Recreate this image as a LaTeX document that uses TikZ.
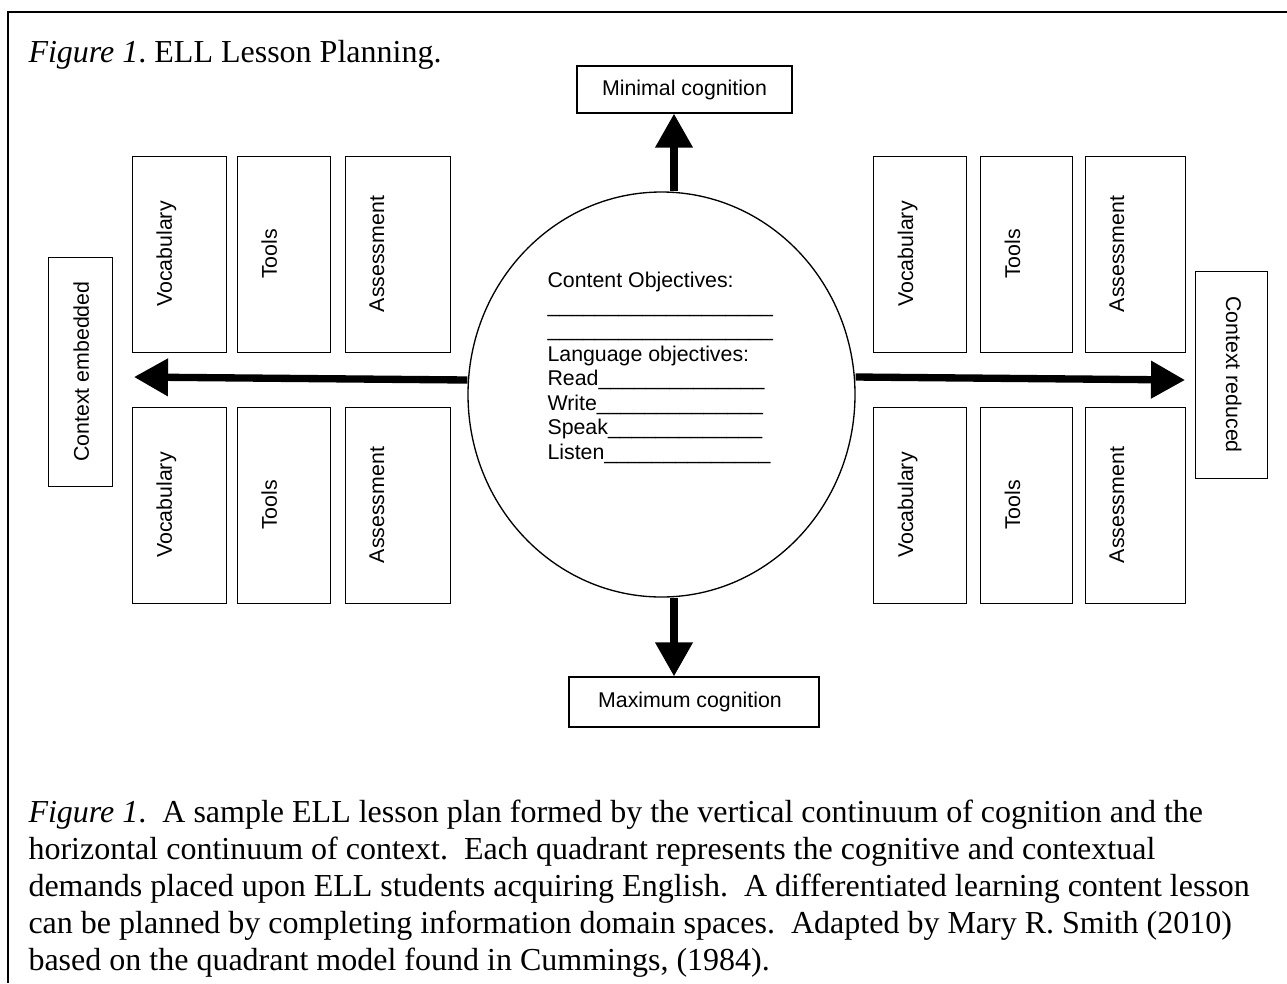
\documentclass[tikz,border=0pt]{standalone}
\usepackage{fontspec}
\setmainfont{Liberation Serif}
\newfontfamily\arialf{Liberation Sans}
\usetikzlibrary{arrows.meta,shapes.geometric}
\frenchspacing
\begin{document}
\begin{tikzpicture}[x=0.375pt,y=-0.375pt,
  bx/.style={draw, line width=0.5pt, rectangle, inner sep=0pt, anchor=north west, minimum height=73.5pt},
  sans/.style={font=\arialf\fontsize{8pt}{9pt}\selectfont, inner sep=0pt},
  vtxt/.style={sans, rotate=90, anchor=north},
  rtxt/.style={sans, rotate=-90, anchor=north},
  ltxt/.style={sans, anchor=base west},
  serif/.style={font=\fontsize{12pt}{13.8pt}\selectfont, inner sep=0pt, anchor=base west},
  big/.style={line width=2.75pt, -{Triangle[length=12.75pt,width=13.5pt]}},
  cbox/.style={draw, line width=0.5pt, rectangle, inner sep=0pt, sans},
]
\useasboundingbox (0,0) rectangle (1287,983);
\draw[line width=0.75pt] (1287,12) -- (8,12) -- (8,983);

\node[serif] (title) at (28,62) {\textit{Figure 1}. ELL Lesson Planning.};

% centre ellipse
\node[draw, ellipse, line width=0.5pt, minimum width=145.125pt, minimum height=151.875pt, inner sep=0pt] (c) at (661.5,394.5) {};
\node[ltxt] (co1) at (547,287.5) {Content Objectives:};
\node[ltxt] (co2) at (547,312) {\_\_\_\_\_\_\_\_\_\_\_\_\_\_\_\_\_\_\_};
\node[ltxt] (co3) at (547,336.5) {\_\_\_\_\_\_\_\_\_\_\_\_\_\_\_\_\_\_\_};
\node[ltxt] (co4) at (547,361) {Language objectives:};
\node[ltxt] (co5) at (547,385.5) {Read\_\_\_\_\_\_\_\_\_\_\_\_\_\_};
\node[ltxt] (co6) at (547,410) {Write\_\_\_\_\_\_\_\_\_\_\_\_\_\_};
\node[ltxt] (co7) at (547,434.5) {Speak\_\_\_\_\_\_\_\_\_\_\_\_\_};
\node[ltxt] (co8) at (547,459) {Listen\_\_\_\_\_\_\_\_\_\_\_\_\_\_};

% cognition boxes
\node[cbox, minimum width=80.625pt, minimum height=17.625pt] (mincog) at (684.5,89.5) {Minimal cognition};
\node[cbox, minimum width=93.75pt, minimum height=18.75pt] (maxcog) at (694,702) {};
\node[sans] (maxcogt) at (690,702) {Maximum cognition};

% context boxes
\node[bx, minimum width=24pt, minimum height=85.875pt] (ce) at (48,257) {};
\node[vtxt] (cet) at (73,371.5) {Context embedded};
\node[bx, minimum width=27pt, minimum height=77.625pt] (cr) at (1195,271) {};
\node[rtxt] (crt) at (1242,374.5) {Context reduced};

% upper left
\node[bx, minimum width=35.25pt] (ulv) at (132,156) {};
\node[vtxt] (ulvt) at (156,254) {Vocabulary};
\node[bx, minimum width=34.875pt] (ult) at (237,156) {};
\node[vtxt] (ultt) at (261,254) {Tools};
\node[bx, minimum width=39.375pt] (ula) at (345,156) {};
\node[vtxt] (ulat) at (369,254) {Assessment};
% lower left
\node[bx, minimum width=35.25pt] (llv) at (132,407) {};
\node[vtxt] (llvt) at (156,505) {Vocabulary};
\node[bx, minimum width=34.875pt] (llt) at (237,407) {};
\node[vtxt] (lltt) at (261,505) {Tools};
\node[bx, minimum width=39.375pt] (lla) at (345,407) {};
\node[vtxt] (llat) at (369,505) {Assessment};
% upper right
\node[bx, minimum width=34.875pt] (urv) at (873,156) {};
\node[vtxt] (urvt) at (897,254) {Vocabulary};
\node[bx, minimum width=34.5pt] (urt) at (980,156) {};
\node[vtxt] (urtt) at (1004,254) {Tools};
\node[bx, minimum width=37.5pt] (ura) at (1085,156) {};
\node[vtxt] (urat) at (1109,254) {Assessment};
% lower right
\node[bx, minimum width=34.875pt] (lrv) at (873,407) {};
\node[vtxt] (lrvt) at (897,505) {Vocabulary};
\node[bx, minimum width=34.5pt] (lrt) at (980,407) {};
\node[vtxt] (lrtt) at (1004,505) {Tools};
\node[bx, minimum width=37.5pt] (lra) at (1085,407) {};
\node[vtxt] (lrat) at (1109,505) {Assessment};

% arrows
\coordinate (vx) at (674,0);
\coordinate (ly) at (0,380);
\coordinate (ry) at (0,377);
\coordinate (ltip) at (134,377);
\coordinate (rtip) at (1185,380);
\draw[big] (c.north -| vx) -- (mincog.south -| vx);
\draw[big] (c.south -| vx) -- (maxcog.north -| vx);
\draw[big] (c.west |- ly) -- (ltip);
\draw[big] (c.east |- ry) -- (rtip);

% caption
\node[serif] (cap1) at (28,822) {\textit{Figure 1}.~ A sample ELL lesson plan formed by the vertical continuum of cognition and the};
\node[serif] (cap2) at (28,859) {horizontal continuum of context.~ Each quadrant represents the cognitive and contextual};
\node[serif] (cap3) at (28,896) {demands placed upon ELL students acquiring English.~ A differentiated learning content lesson};
\node[serif] (cap4) at (28,933) {can be planned by completing information domain spaces.~ Adapted by Mary R. Smith (2010)};
\node[serif] (cap5) at (28,970) {based on the quadrant model found in Cummings, (1984).};
\end{tikzpicture}
\end{document}
